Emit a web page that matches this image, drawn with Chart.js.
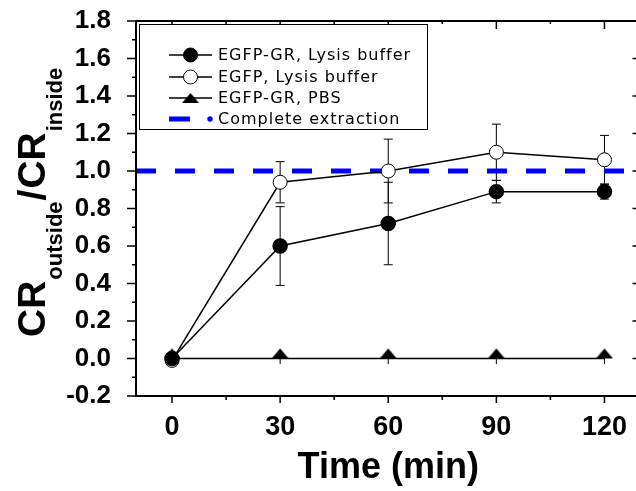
<!DOCTYPE html>
<html>
<head>
<meta charset="utf-8">
<script src="https://cdn.jsdelivr.net/npm/chart.js@4.4.0/dist/chart.umd.min.js"></script>
<style>
  html, body { margin: 0; padding: 0; background: #fff; overflow: hidden; }
</style>
</head>
<body>
<!-- a little wider than the window: the right frame of the original sits just past the edge -->
<canvas id="chart" width="649" height="491"></canvas>
<script>
// values
const times = [0, 30, 60, 90, 120];
const grLysis = [0, 0.60, 0.72, 0.89, 0.89];
const grLysisErr = [0, 0.21, 0.22, 0.06, 0.04];
const egfpLysis = [-0.01, 0.94, 1.00, 1.10, 1.06];
const egfpLysisErr = [0, 0.11, 0.17, 0.15, 0.13];
const grPbs = [0, 0, 0, 0, 0];
const grPbsErr = [0, 0.03, 0.03, 0.03, 0.03];
const completeLevel = 1.0;
const completeRange = [-10, 130];

const xTicks = [0, 30, 60, 90, 120];
const yTicks = [-0.2, 0, 0.2, 0.4, 0.6, 0.8, 1.0, 1.2, 1.4, 1.6, 1.8];
const seriesNames = ["EGFP-GR, Lysis buffer", "EGFP, Lysis buffer", "EGFP-GR, PBS", "Complete extraction"];

const toPoints = (ys) => times.map((t, i) => ({ x: t, y: ys[i] }));

// up triangle sitting on its point (base on the value)
function makeTriangle() {
  const c = document.createElement("canvas");
  c.width = 18;
  c.height = 22;
  const g = c.getContext("2d");
  g.fillStyle = "#000";
  g.beginPath();
  g.moveTo(9, 1);
  g.lineTo(17.5, 11);
  g.lineTo(0.5, 11);
  g.closePath();
  g.fill();
  return c;
}
const triangle = makeTriangle();

const midpoints = (arr) => arr.slice(1).map((v, i) => (v + arr[i]) / 2);

const errorBars = {
  id: "errorBars",
  beforeDatasetsDraw(chart) {
    const { ctx, scales: { x, y } } = chart;
    ctx.save();
    ctx.strokeStyle = "#000";
    ctx.lineWidth = 1;
    chart.data.datasets.forEach((ds) => {
      if (!ds.errors) return;
      ds.data.forEach((p, i) => {
        const e = ds.errors[i];
        if (!e) return;
        const px = x.getPixelForValue(p.x);
        const top = y.getPixelForValue(p.y + e);
        const bot = y.getPixelForValue(p.y - e);
        ctx.beginPath();
        ctx.moveTo(px, top);
        ctx.lineTo(px, bot);
        if (ds.capHalf) {
          ctx.moveTo(px - ds.capHalf, top);
          ctx.lineTo(px + ds.capHalf, top);
          ctx.moveTo(px - ds.capHalf, bot);
          ctx.lineTo(px + ds.capHalf, bot);
        }
        ctx.stroke();
      });
    });
    ctx.restore();
  },
};

const frame = {
  id: "frame",
  afterDraw(chart) {
    const { ctx, chartArea: a, scales: { x, y } } = chart;
    ctx.save();
    ctx.strokeStyle = "#000";
    ctx.lineWidth = 2;
    ctx.strokeRect(a.left, a.top, a.right - a.left, a.bottom - a.top);

    ctx.lineWidth = 1.5;
    ctx.beginPath();
    yTicks.forEach((v) => {
      const py = y.getPixelForValue(v);
      ctx.moveTo(a.left - 9, py); ctx.lineTo(a.left, py);
      ctx.moveTo(a.right - 8, py); ctx.lineTo(a.right, py);
    });
    midpoints(yTicks).forEach((v) => {
      const py = y.getPixelForValue(v);
      ctx.moveTo(a.left - 4, py); ctx.lineTo(a.left, py);
      ctx.moveTo(a.right - 4, py); ctx.lineTo(a.right, py);
    });
    xTicks.forEach((v) => {
      const px = x.getPixelForValue(v);
      ctx.moveTo(px, a.bottom); ctx.lineTo(px, a.bottom + 7);
      ctx.moveTo(px, a.top); ctx.lineTo(px, a.top + 8);
    });
    midpoints(xTicks).forEach((v) => {
      const px = x.getPixelForValue(v);
      ctx.moveTo(px, a.bottom); ctx.lineTo(px, a.bottom + 4);
      ctx.moveTo(px, a.top); ctx.lineTo(px, a.top + 3);
    });
    ctx.stroke();

    // y axis title with subscripts
    ctx.translate(45, 337);
    ctx.rotate(-Math.PI / 2);
    ctx.fillStyle = "#000";
    ctx.textBaseline = "alphabetic";
    const big = "bold 39px 'Liberation Sans', Arial, sans-serif";
    const small = "bold 22px 'Liberation Sans', Arial, sans-serif";
    const parts = [["CR", big, 0], ["outside", small, 17], ["/", big, 0], ["CR", big, 0], ["inside", small, 17]];
    let cx = 0;
    parts.forEach(([t, f, dy]) => {
      ctx.font = f;
      ctx.fillText(t, cx, dy);
      cx += ctx.measureText(t).width + 1;
    });
    ctx.restore();

    // legend box
    ctx.save();
    ctx.fillStyle = "#fff";
    ctx.fillRect(139, 24, 288, 105);
    ctx.strokeStyle = "#000";
    ctx.lineWidth = 1;
    ctx.strokeRect(139.5, 24.5, 288, 105);
    const rows = [55, 77, 98, 119];
    ctx.font = "16px 'DejaVu Sans', sans-serif";
    ctx.letterSpacing = "1px";
    ctx.textBaseline = "middle";
    rows.forEach((ry, i) => {
      ctx.fillStyle = "#000";
      ctx.fillText(seriesNames[i], 218, ry + 1);
      if (i < 3) {
        ctx.strokeStyle = "#000";
        ctx.lineWidth = 1.5;
        ctx.beginPath();
        ctx.moveTo(169, ry); ctx.lineTo(212, ry);
        ctx.stroke();
      }
      if (i === 0 || i === 1) {
        ctx.beginPath();
        ctx.arc(190.5, ry, 7, 0, Math.PI * 2);
        ctx.fillStyle = i === 0 ? "#000" : "#fff";
        ctx.fill();
        ctx.lineWidth = 1;
        ctx.stroke();
      } else if (i === 2) {
        ctx.drawImage(triangle, 190.5 - 9, ry - 6);
      } else {
        ctx.strokeStyle = "#0000ff";
        ctx.lineWidth = 5;
        ctx.beginPath();
        ctx.moveTo(169, ry); ctx.lineTo(190, ry);
        ctx.stroke();
        ctx.fillStyle = "#0000ff";
        ctx.beginPath();
        ctx.arc(210, ry, 2.7, 0, Math.PI * 2);
        ctx.fill();
      }
    });
    ctx.restore();
  },
};

Chart.defaults.font.family = "'Liberation Sans', Arial, sans-serif";
Chart.defaults.color = "#000";

new Chart(document.getElementById("chart"), {
  type: "line",
  data: {
    datasets: [
      {
        label: seriesNames[2],
        data: toPoints(grPbs),
        errors: grPbsErr,
        capHalf: 0,
        borderColor: "#000",
        borderWidth: 1.5,
        pointStyle: triangle,
        order: 0,
      },
      {
        label: seriesNames[0],
        data: toPoints(grLysis),
        errors: grLysisErr,
        capHalf: 4.5,
        borderColor: "#000",
        borderWidth: 1.5,
        pointStyle: "circle",
        pointRadius: 7,
        pointBackgroundColor: "#000",
        pointBorderColor: "#000",
        order: 1,
      },
      {
        label: seriesNames[1],
        data: toPoints(egfpLysis),
        errors: egfpLysisErr,
        capHalf: 4.5,
        borderColor: "#000",
        borderWidth: 1.5,
        pointStyle: "circle",
        pointRadius: 7,
        pointBackgroundColor: "#fff",
        pointBorderColor: "#000",
        pointBorderWidth: 1,
        order: 2,
      },
      {
        label: seriesNames[3],
        data: completeRange.map((t) => ({ x: t, y: completeLevel })),
        borderColor: "#0000ff",
        borderWidth: 5,
        borderDash: [20, 19],
        pointRadius: 0,
        order: 3,
      },
    ],
  },
  options: {
    responsive: false,
    animation: false,
    events: [],
    layout: { padding: { top: 21, right: 0, left: 0, bottom: 0 } },
    plugins: { legend: { display: false }, tooltip: { enabled: false } },
    elements: { line: { tension: 0 } },
    scales: {
      x: {
        type: "linear",
        min: -10,
        max: 130,
        grid: { display: false },
        border: { display: false },
        afterBuildTicks: (s) => { s.ticks = xTicks.map((v) => ({ value: v })); },
        afterFit: (s) => { s.height = 95; s.paddingLeft = 0; s.paddingRight = 0; },
        ticks: {
          autoSkip: false,
          maxRotation: 0,
          padding: 7,
          font: { size: 27, weight: "bold" },
        },
        title: {
          display: true,
          text: "Time (min)",
          font: { size: 36, weight: "bold" },
          padding: { top: 0, bottom: 1 },
        },
      },
      y: {
        min: -0.2,
        max: 1.8,
        grid: { display: false },
        border: { display: false },
        afterBuildTicks: (s) => { s.ticks = yTicks.map((v) => ({ value: v })); },
        afterFit: (s) => { s.width = 136; s.paddingTop = 0; s.paddingBottom = 0; },
        ticks: {
          padding: 17,
          font: { size: 26, weight: "bold" },
          callback: (v) => v.toFixed(1),
        },
      },
    },
  },
  plugins: [errorBars, frame],
});
</script>
</body>
</html>
